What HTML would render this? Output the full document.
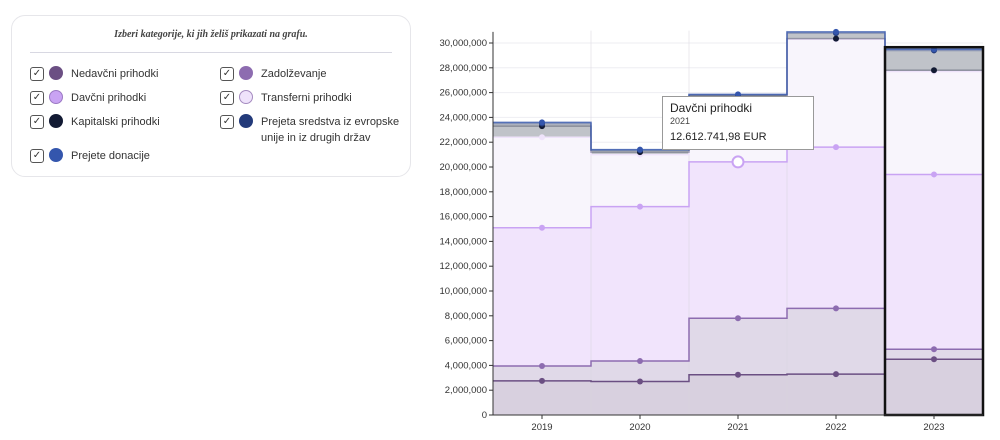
<!DOCTYPE html>
<html><head><meta charset="utf-8">
<style>
body{margin:0;width:1000px;height:440px;background:#fff;font-family:"Liberation Sans",sans-serif;overflow:hidden;position:relative}
.panel{position:absolute;left:11px;top:15px;width:400px;height:162px;border:1px solid #e6e6ea;border-radius:14px;box-sizing:border-box}
.title{position:absolute;left:0;width:100%;top:13px;text-align:center;font-family:"Liberation Serif",serif;font-style:italic;font-weight:bold;font-size:10px;color:#444}
.hr{position:absolute;left:18px;right:18px;top:36px;border-top:1px solid #d8d8e2}
.item{position:absolute;font-size:11px;color:#333;line-height:16px}
.cb{position:absolute;left:0;top:0;width:12px;height:12px;border:1.2px solid #555;border-radius:3px;font-size:10px;line-height:12px;text-align:center}
.dot{position:absolute;left:19px;top:-1px;width:14px;height:14px;border-radius:50%;box-sizing:border-box}
.lbl{position:absolute;left:41px;top:-1px;white-space:nowrap}
</style></head><body>
<div class="panel">
<div class="title">Izberi kategorije, ki jih želiš prikazati na grafu.</div>
<div class="hr"></div>
<div class="item" style="left:18px;top:51px"><div class="cb">✓</div><div class="dot" style="background:#6b4f83"></div><div class="lbl">Nedavčni prihodki</div></div>
<div class="item" style="left:18px;top:75px"><div class="cb">✓</div><div class="dot" style="background:#c9a3f3;border:1px solid #9b79c4"></div><div class="lbl">Davčni prihodki</div></div>
<div class="item" style="left:18px;top:99px"><div class="cb">✓</div><div class="dot" style="background:#121a33"></div><div class="lbl">Kapitalski prihodki</div></div>
<div class="item" style="left:18px;top:133px"><div class="cb">✓</div><div class="dot" style="background:#3456ad"></div><div class="lbl">Prejete donacije</div></div>
<div class="item" style="left:208px;top:51px"><div class="cb">✓</div><div class="dot" style="background:#8d6cb0"></div><div class="lbl">Zadolževanje</div></div>
<div class="item" style="left:208px;top:75px"><div class="cb">✓</div><div class="dot" style="background:#efe3fb;border:1px solid #a58bc0"></div><div class="lbl">Transferni prihodki</div></div>
<div class="item" style="left:208px;top:99px"><div class="cb">✓</div><div class="dot" style="background:#233a7a"></div><div class="lbl">Prejeta sredstva iz evropske<br>unije in iz drugih držav</div></div>
</div>
<svg id="chart" width="1000" height="440" style="position:absolute;left:0;top:0"></svg>
<div style="position:absolute;left:662px;top:96px;width:152px;height:54px;background:#fff;border:1px solid #999;box-sizing:border-box;padding:5px 7px;font-size:11px;color:#222;line-height:1">
<div style="font-size:12px">Davčni prihodki</div><div style="font-size:9px;margin-top:3px;color:#444">2021</div><div style="font-size:11px;margin-top:6px">12.612.741,98 EUR</div></div>
<script>
const years=[2019,2020,2021,2022,2023];
const nedavcni=[2.75,2.7,3.25,3.3,4.5];
const zadolzevanje=[1.2,1.65,4.55,5.3,0.8];
const davcni=[11.15,12.45,12.61,13.0,14.1];
const transferni=[7.3,4.2,5.25,8.7,8.3];
const kapitalski=[0.9,0.2,0.1,0.05,0.1];
const euSredstva=[0.2,0.15,0.05,0.45,1.6];
const donacije=[0.1,0.05,0.05,0.1,0.1];
const yTicks=[0,2,4,6,8,10,12,14,16,18,20,22,24,26,28,30];
const series=[
 {n:'nedavcni',v:nedavcni,c:'#6b4f83',f:'#d8d0df',o:1},
 {n:'zadolzevanje',v:zadolzevanje,c:'#8d6cb0',f:'#e0d9e8',o:1},
 {n:'davcni',v:davcni,c:'#c9a3f3',f:'#f1e4fc',o:1},
 {n:'transferni',v:transferni,c:'#efe3fb',f:'#f8f5fc',o:1},
 {n:'kapitalski',v:kapitalski,c:'#121a33',f:'#c0c3c9',o:0.35},
 {n:'eu-sredstva',v:euSredstva,c:'#233a7a',f:'#c0c3c9',o:0.35},
 {n:'donacije',v:donacije,c:'#3456ad',f:'#c8cde0',o:0.8}];
const svg=document.getElementById('chart');const NS='http://www.w3.org/2000/svg';
const x0=493,bw=98,y0=415,ppm=12.4;
const X=i=>x0+bw*i, XC=i=>x0+bw*i+bw/2, Y=v=>y0-v*ppm;
function el(t,a,p){const e=document.createElementNS(NS,t);for(const k in a)e.setAttribute(k,a[k]);(p||svg).appendChild(e);return e;}
yTicks.forEach(t=>{const g=el('line',{x1:x0,x2:983,y1:Y(t),y2:Y(t),stroke:'#eeeef2'});

const tl=el('text',{x:x0-6,y:Y(t)+3,'text-anchor':'end','font-size':9.5,fill:'#333'});tl.textContent=t===0?'0':(t*1000000).toLocaleString('en-US');

el('line',{x1:x0-4,x2:x0,y1:Y(t),y2:Y(t),stroke:'#333'});});
const cum=years.map(()=>0);
const tops=[];
series.forEach(s=>{const base=cum.slice();years.forEach((y,i)=>cum[i]+=s.v[i]);const top=cum.slice();tops.push(top);
 let d='';years.forEach((y,i)=>{d+=(i?'L':'M')+X(i)+','+Y(top[i])+'L'+X(i+1)+','+Y(top[i]);});
 for(let i=years.length-1;i>=0;i--){d+='L'+X(i+1)+','+Y(base[i])+'L'+X(i)+','+Y(base[i]);}
 const a=el('path',{d:d+'Z',fill:s.f,stroke:'none'});});
for(let i=1;i<5;i++)el('line',{x1:X(i),x2:X(i),y1:Y(31),y2:y0,stroke:'#d8d4de','stroke-opacity':0.5});
series.forEach((s,k)=>{const top=tops[k];let d='';years.forEach((y,i)=>{d+=(i?'L':'M')+X(i)+','+Y(top[i])+'L'+X(i+1)+','+Y(top[i]);});
 const l=el('path',{d:d,fill:'none',stroke:s.c,'stroke-width':1.5,'stroke-opacity':s.o});
 years.forEach((y,i)=>{const c=el('circle',{cx:XC(i),cy:Y(top[i]),r:3,fill:s.c});});});
const hc=el('circle',{cx:XC(2),cy:Y(tops[2][2]),r:5.5,fill:'#fff',stroke:'#c9a3f3','stroke-width':2});

const hl=el('rect',{x:X(4),y:Y(tops[6][4])-2,width:bw,height:y0-Y(tops[6][4])+2,fill:'none',stroke:'#111','stroke-width':2.5});

el('line',{x1:x0,x2:x0,y1:Y(30.9),y2:y0,stroke:'#333'});el('line',{x1:x0,x2:983,y1:y0,y2:y0,stroke:'#333'});
years.forEach((y,i)=>{el('line',{x1:XC(i),x2:XC(i),y1:y0,y2:y0+4,stroke:'#333'});
 const t=el('text',{x:XC(i),y:y0+15,'text-anchor':'middle','font-size':9.5,fill:'#333'});t.textContent=y;
 });
</script>
</body></html>
